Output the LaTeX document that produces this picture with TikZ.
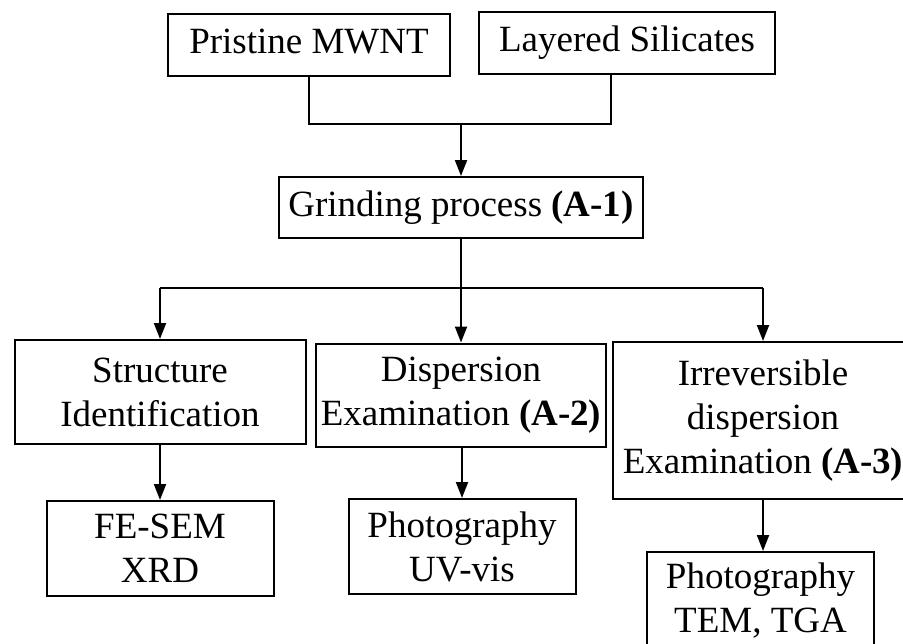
\documentclass[tikz,border=0pt]{standalone}
\usepackage{fontspec}
\setmainfont{Liberation Serif}
\usepackage{tikz}
\usetikzlibrary{arrows.meta,positioning,calc}
\newcommand{\boxfont}{\fontsize{18.5}{22}\selectfont}
\tikzset{
  blk/.style={draw, line width=1pt, rectangle, align=center, inner sep=0pt, font=\boxfont},
  oneline/.style={blk, text height=12.5pt, text depth=4pt},
  link/.style={line width=1pt, black},
  arr/.style={link, -{Triangle[length=8pt,width=6pt]}},
}

\begin{document}
\begin{tikzpicture}[x=0.5pt,y=-0.5pt]
 \useasboundingbox (0,0) rectangle (903,643);
 \fill[white] (0,0) rectangle (903,643);
 \clip (0,0) rectangle (903,643);

 \node[oneline, minimum width=141pt, minimum height=31pt] (prist) at (309,45) {Pristine MWNT};
 \node[oneline, minimum width=148pt, minimum height=31pt] (silic) at (627,43) {Layered Silicates};
 \node[oneline, minimum width=182pt, minimum height=30.5pt] (grind) at (461,207.5) {Grinding process \textbf{(A-1)}};

 \node[blk, minimum width=145.5pt, minimum height=52pt] (struc) at (160,392) {Structure\\Identification};
 \node[blk, minimum width=145pt, minimum height=51.5pt] (disp) at (461,395) {Dispersion\\Examination \textbf{(A-2)}};
 \node[blk, minimum width=150pt, minimum height=78.5pt] (irrev) at (763,420.5) {Irreversible\\dispersion\\Examination \textbf{(A-3)}};

 \node[blk, minimum width=113.5pt, minimum height=47.5pt] (fesem) at (160,548.5) {FE-SEM\\XRD};
 \node[blk, minimum width=113.5pt, minimum height=47.5pt] (uvvis) at (462,546.5) {Photography\\UV-vis};
 \node[blk, minimum width=113.5pt, minimum height=48pt] (temtga) at (760.5,600) {Photography\\TEM, TGA};

 \coordinate (join) at (461,124);
 \coordinate (split) at (461,288);
 \coordinate (sl) at (160,288);
 \coordinate (sr) at (763,288);

 \draw[link] (prist.south) |- (join) -| ([xshift=-8pt]silic.south);
 \draw[arr] (join) -- (grind.north);
 \draw[link] (grind.south) -- (split);
 \draw[link] (sl) -- (sr);
 \draw[arr] (sl) -- (struc.north);
 \draw[arr] (split) -- (disp.north);
 \draw[arr] (sr) -- (irrev.north);

 \draw[arr] (struc.south) -- (fesem.north);
 \draw[arr] (disp.south) -- (disp.south -| uvvis.north) -- (uvvis.north);
 \draw[arr] (irrev.south) -- (irrev.south |- temtga.north);
\end{tikzpicture}
\end{document}
